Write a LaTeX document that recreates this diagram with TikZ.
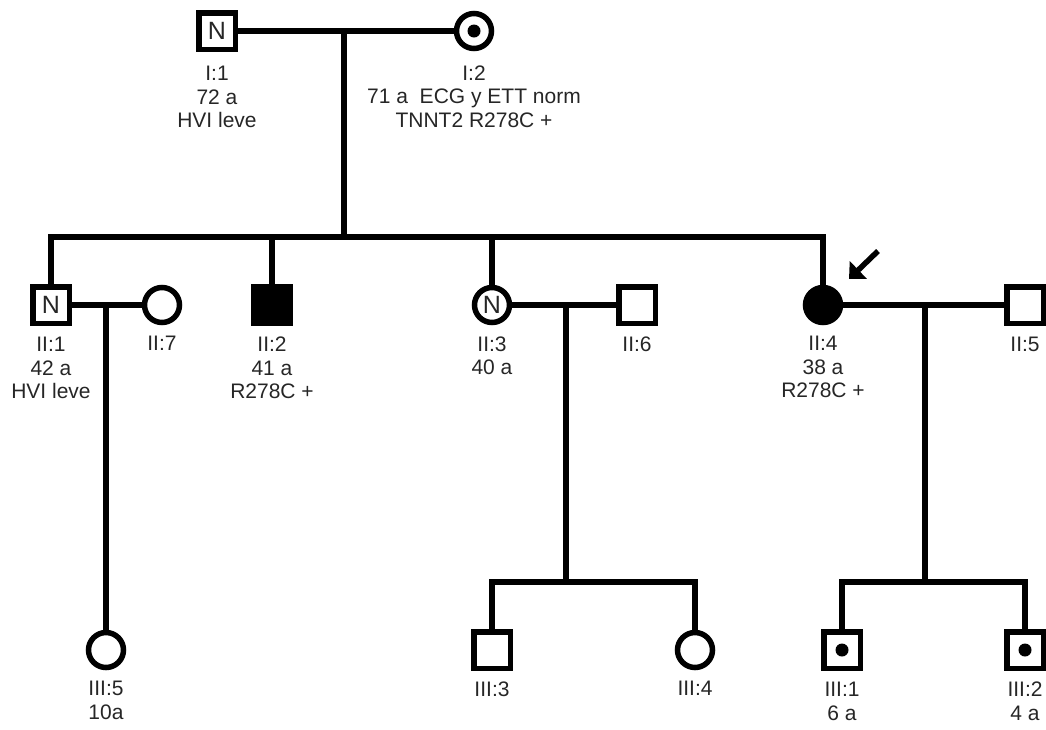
\documentclass[tikz,border=0pt]{standalone}
\usepackage{fontspec}
\setmainfont{Liberation Sans}
\usetikzlibrary{arrows.meta,positioning}

\begin{document}
\begin{tikzpicture}[x=1pt,y=-1pt,font=\fontsize{21pt}{23.5pt}\selectfont,
  male/.style={draw,rectangle,minimum size=36.5pt,inner sep=0pt,line width=5.5pt},
  female/.style={draw,circle,minimum size=35pt,inner sep=0pt,line width=5.5pt},
  affected/.style={fill=black},
  carrier/.style={path picture={\fill (path picture bounding box.center) circle[radius=6.5pt];}},
  normal/.style={font=\fontsize{25pt}{25pt}\selectfont,text=black!85},
  tag/.style={align=center,text=black!85,inner sep=0pt},
  rel/.style={line width=5.5pt,line cap=rect},
  node distance=11pt]
  \useasboundingbox (0,0) rectangle (1046,729);
  \node[male,normal] (I1) at (217,31) {N};
  \node[female,carrier] (I2) at (474,31) {};
  \node[male,normal] (II1) at (51,305) {N};
  \node[female] (II7) at (162,305) {};
  \node[male,affected] (II2) at (272,305) {};
  \node[female,normal] (II3) at (492,305) {N};
  \node[male] (II6) at (637,305) {};
  \node[female,affected] (II4) at (823,305) {};
  \node[male] (II5) at (1025,305) {};
  \node[female] (III5) at (106,650) {};
  \node[male] (III3) at (492,650) {};
  \node[female] (III4) at (695,650) {};
  \node[male,carrier] (III1) at (842,650) {};
  \node[male,carrier] (III2) at (1025,650) {};
  \node[tag,below=14pt of I1] (I1t) {I:1\\72 a\\HVI leve};
  \node[tag,below=14pt of I2] (I2t) {I:2\\71 a~ ECG y ETT norm\\TNNT2 R278C +};
  \node[tag,below=of II1] (II1t) {II:1\\42 a\\HVI leve};
  \node[tag,below=of II7] (II7t) {II:7};
  \node[tag,below=of II2] (II2t) {II:2\\41 a\\R278C +};
  \node[tag,below=of II3] (II3t) {II:3\\40 a};
  \node[tag,below=of II6] (II6t) {II:6};
  \node[tag,below=of II4] (II4t) {II:4\\38 a\\R278C +};
  \node[tag,below=of II5] (II5t) {II:5};
  \node[tag,below=of III5] (III5t) {III:5\\10a};
  \node[tag,below=of III3] (III3t) {III:3};
  \node[tag,below=of III4] (III4t) {III:4};
  \node[tag,below=of III1] (III1t) {III:1\\6 a};
  \node[tag,below=of III2] (III2t) {III:2\\4 a};
  \coordinate (m1) at (344,31);
  \coordinate (s1) at (344,237);
  \coordinate (m2) at (106,305);
  \coordinate (m3) at (566,305);
  \coordinate (s3) at (566,582);
  \coordinate (m4) at (925,305);
  \coordinate (s4) at (925,582);
  \draw[rel] (I1) -- (I2);
  \draw[rel] (m1) -- (s1);
  \draw[rel] (II1 |- s1) -- (II4 |- s1);
  \foreach \c in {II1,II2,II3,II4}{\draw[rel] (\c |- s1) -- (\c);}
  \draw[rel] (II1) -- (II7);
  \draw[rel] (m2) -- (III5);
  \draw[rel] (II3) -- (II6);
  \draw[rel] (m3) -- (s3);
  \draw[rel] (III3 |- s3) -- (III4 |- s3);
  \foreach \c in {III3,III4}{\draw[rel] (\c |- s3) -- (\c);}
  \draw[rel] (II4) -- (II5);
  \draw[rel] (m4) -- (s4);
  \draw[rel] (III1 |- s4) -- (III2 |- s4);
  \foreach \c in {III1,III2}{\draw[rel] (\c |- s4) -- (\c);}
  \coordinate (ptail) at (878,251);
  \coordinate (ptip) at (849,279);
  \draw[line width=5.5pt,-{Triangle[length=13pt,width=24pt]}] (ptail) -- (ptip);
\end{tikzpicture}
\end{document}
